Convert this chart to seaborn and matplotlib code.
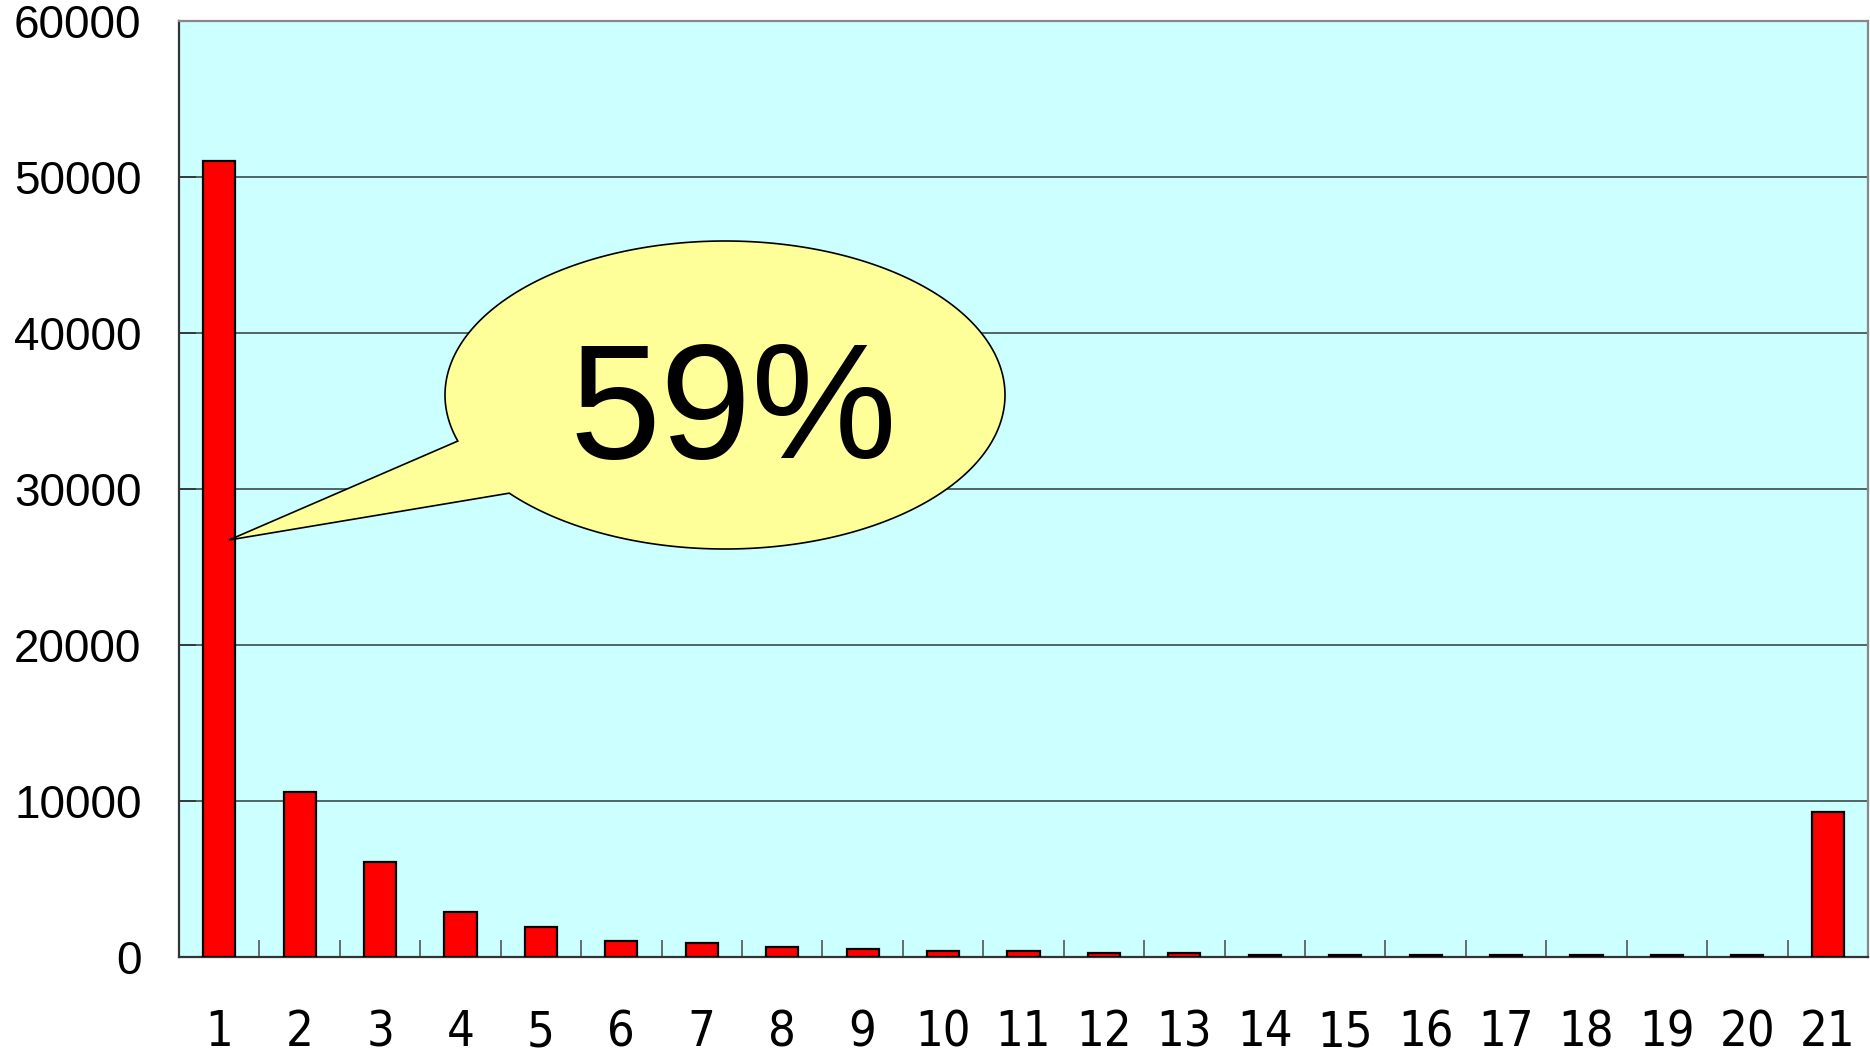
import numpy as np
import pandas as pd
import seaborn as sns
import matplotlib.pyplot as plt
from matplotlib import font_manager
from matplotlib.path import Path
from matplotlib.patches import PathPatch

# data
categories = [str(i) for i in range(1, 22)]
counts = [51000, 10600, 6100, 2870, 1900, 1000, 870, 630, 500, 400, 400,
          280, 260, 150, 150, 150, 150, 150, 150, 150, 9280]
y_ticks = [0, 10000, 20000, 30000, 40000, 50000, 60000]
callout_text = "59%"

df = pd.DataFrame({"group": categories, "count": counts})

sns.set_theme(style="white")
plt.rcParams["font.family"] = ["Liberation Sans", "DejaVu Sans"]
plt.rcParams["text.color"] = "black"
plt.rcParams["xtick.color"] = "black"
plt.rcParams["ytick.color"] = "black"

# narrow face for the x labels if one is installed
names = {f.name for f in font_manager.fontManager.ttflist}
narrow_fam, narrow_stretch = "Liberation Sans", "normal"
if "Liberation Sans Narrow" in names:
    narrow_fam, narrow_stretch = "Liberation Sans Narrow", "normal"
elif any(f.name == "DejaVu Sans" and f.stretch == "condensed" for f in font_manager.fontManager.ttflist):
    narrow_fam, narrow_stretch = "DejaVu Sans", "condensed"

W, H = 1870, 1053
fig = plt.figure(figsize=(W / 100, H / 100), dpi=100)
# axes box in pixels: x 179..1868, y 21..957
ax = fig.add_axes([179 / W, (H - 957) / H, 1689 / W, 936 / H])
ax.set_facecolor("#ccffff")

sns.barplot(data=df, x="group", y="count", order=categories, color="#ff0000",
            saturation=1, width=0.4, edgecolor="black", linewidth=1.6,
            ax=ax, zorder=3)

ax.set_xlim(-0.5, len(categories) - 0.5)
ax.set_ylim(0, 60000)
ax.set_yticks(y_ticks)
ax.set_yticklabels([str(v) for v in y_ticks], fontsize=33)
ax.yaxis.grid(True, color="#3c4a4a", linewidth=1.2)
ax.set_axisbelow(True)
ax.tick_params(axis="y", left=True, direction="in", length=12, width=1.2,
               color="#333333", labelcolor="black", pad=27)

ax.set_xticks(range(len(categories)))
ax.set_xticklabels(categories, fontsize=35, family=[narrow_fam, "DejaVu Sans"],
                   fontstretch=narrow_stretch)
ax.tick_params(axis="x", which="major", length=0, pad=37, labelcolor="black")
ax.set_xticks(np.arange(-0.5, len(categories), 1), minor=True)
ax.tick_params(axis="x", which="minor", bottom=True, direction="in", length=12,
               width=1.2, color="#555555")
ax.set_xlabel("")
ax.set_ylabel("")

for side in ["left", "bottom"]:
    ax.spines[side].set_color("#333333")
    ax.spines[side].set_linewidth(1.6)
for side in ["top", "right"]:
    ax.spines[side].set_color("#888888")
    ax.spines[side].set_linewidth(1.6)


# speech bubble (pixel positions -> axes fraction)
def to_ax(X, Y):
    return ((X - 179) / 1689, (957 - Y) / 936)

cx, cy, a, b = 725, 395, 280, 154
t1, t2 = np.deg2rad(162.6), np.deg2rad(140.4 + 360)
th = np.linspace(t1, t2, 300)
pts = [to_ax(cx + a * np.cos(t), cy + b * np.sin(t)) for t in th]
pts.append(to_ax(229, 540))
pts.append(pts[0])
codes = [Path.MOVETO] + [Path.LINETO] * (len(pts) - 2) + [Path.CLOSEPOLY]
bubble = PathPatch(Path(pts, codes), facecolor="#ffff99", edgecolor="black",
                   linewidth=1.2, transform=ax.transAxes, zorder=5)
ax.add_patch(bubble)
tx, ty = to_ax(733, 416)
ax.text(tx, ty, callout_text, transform=ax.transAxes, ha="center", va="center",
        fontsize=118, color="black", zorder=6)

fig.savefig("out.png", dpi=100)
